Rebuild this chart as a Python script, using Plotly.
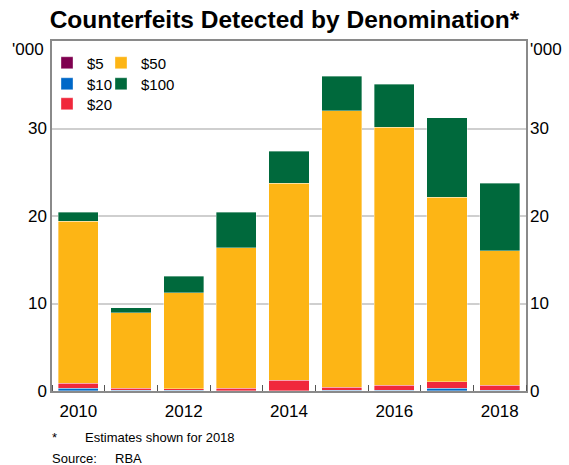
import plotly.graph_objects as go

years = [2010, 2011, 2012, 2013, 2014, 2015, 2016, 2017, 2018]
d5 = [0.02, 0.02, 0.02, 0.02, 0.02, 0.02, 0.02, 0.02, 0.02]
d10 = [0.30, 0.07, 0.04, 0.02, 0.03, 0.07, 0.07, 0.30, 0.07]
d20 = [0.57, 0.23, 0.22, 0.28, 1.18, 0.34, 0.57, 0.76, 0.57]
d50 = [18.51, 8.64, 10.96, 16.08, 22.52, 31.60, 29.47, 21.08, 15.36]
d100 = [1.05, 0.57, 1.90, 4.05, 3.65, 3.97, 4.93, 9.07, 7.70]

names = ["$5", "$10", "$20", "$50", "$100"]
values = [d5, d10, d20, d50, d100]
colors = ["#7f0050", "#0068c8", "#f0283c", "#fdb515", "#00693c"]

FONT = "Liberation Sans, Arial, sans-serif"
W, H = 569, 465
ML, MR, MT, MB = 52, 43, 41, 74
pw = W - ML - MR
ph = H - MT - MB
def px_x(px):
    return (px - ML) / pw
def px_y(py):
    return (H - MB - py) / ph

# legend slots (left px of legend box, centre row px): two columns like the original
slots = [(47, 63), (47, 84), (47, 104), (101, 63), (101, 84)]
legend_ids = ["legend", "legend2", "legend3", "legend4", "legend5"]

fig = go.Figure()
for name, vals, color, lid in zip(names, values, colors, legend_ids):
    fig.add_trace(go.Bar(
        x=years, y=vals, name=name, legend=lid,
        marker=dict(color=color, line=dict(color="rgba(255,255,255,0.6)", width=0.6)),
        width=0.76,
    ))

fig.add_trace(go.Scatter(x=[2010], y=[0], yaxis="y2", mode="markers",
                         marker=dict(opacity=0), showlegend=False, hoverinfo="skip"))

yt = [0, 10, 20, 30]
ytt = ["0", "10", "20", "30"]

legend_layout = {}
for lid, (lx, ly) in zip(legend_ids, slots):
    legend_layout[lid] = dict(x=px_x(lx), y=px_y(ly), xanchor="left", yanchor="middle",
                              orientation="v", bgcolor="rgba(0,0,0,0)", font=dict(size=15),
                              itemwidth=30)

fig.update_layout(
    barmode="stack",
    width=W, height=H,
    margin=dict(l=ML, r=MR, t=MT, b=MB),
    paper_bgcolor="white", plot_bgcolor="white",
    font=dict(family=FONT, size=17, color="black"),
    title=dict(text="<b>Counterfeits Detected by Denomination*</b>", x=0.5, xanchor="center",
               y=1 - 19 / H, yanchor="middle", font=dict(size=24.5, family=FONT)),
    xaxis=dict(
        range=[2009.5, 2018.5], tickvals=[2010, 2012, 2014, 2016, 2018],
        ticks="", showgrid=False, zeroline=False, ticklabelstandoff=4,
        showline=True, mirror=True, linecolor="#8a8a8a", linewidth=1.5,
        minor=dict(ticks="inside", tick0=2009.5, dtick=1, ticklen=6, tickcolor="#555", showgrid=False),
        tickfont=dict(size=17),
    ),
    yaxis=dict(
        range=[0, 40], tickvals=yt, ticktext=ytt, ticks="", showgrid=True,
        gridcolor="#cfcfcf", gridwidth=1.5, zeroline=False,
        showline=True, mirror=True, linecolor="#8a8a8a", linewidth=1.5,
        tickfont=dict(size=17),
    ),
    yaxis2=dict(
        range=[0, 40], tickvals=yt, ticktext=ytt, ticks="", overlaying="y", side="right",
        showgrid=False, zeroline=False, showline=False, tickfont=dict(size=17),
        ticklabelstandoff=3,
    ),
    showlegend=True,
    **legend_layout,
)

# unit labels at top of both axes
fig.add_annotation(text="'000", x=px_x(46), y=px_y(50), xref="paper", yref="paper",
                   xanchor="right", yanchor="middle", showarrow=False,
                   font=dict(size=17, family=FONT, color="black"))
fig.add_annotation(text="'000", x=px_x(528), y=px_y(50), xref="paper", yref="paper",
                   xanchor="left", yanchor="middle", showarrow=False,
                   font=dict(size=17, family=FONT, color="black"))

notes = [("*", 50, 437), ("Estimates shown for 2018", 83, 437), ("Source:", 50, 458), ("RBA", 113, 458)]
for txt, x0, y0 in notes:
    fig.add_annotation(text=txt, x=px_x(x0), y=px_y(y0), xref="paper", yref="paper",
                       xanchor="left", yanchor="middle", showarrow=False,
                       font=dict(size=13, family=FONT, color="black"))

fig.write_html("out.html", config={"displayModeBar": False},
               post_script="document.body.style.margin='0px';")
